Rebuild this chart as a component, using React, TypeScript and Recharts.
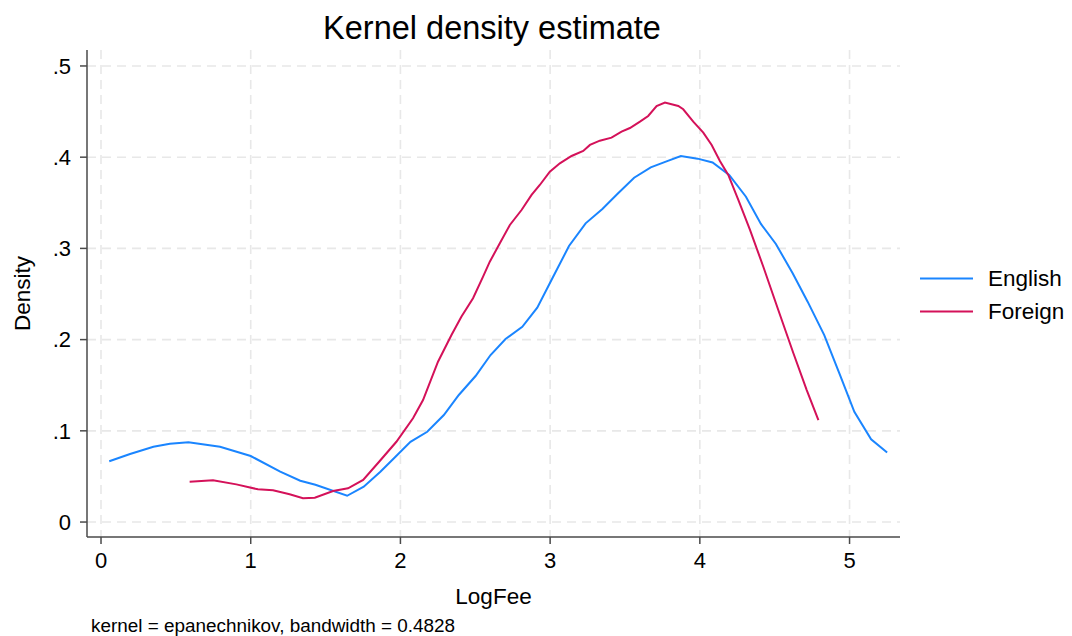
import React from 'react';
import { LineChart, Line, XAxis, YAxis, CartesianGrid, Legend } from 'recharts';

// Kernel density of LogFee, evaluated on each group's own grid
const englishX = [0.055, 0.194, 0.35, 0.46, 0.584, 0.795, 1.0, 1.197, 1.331, 1.432, 1.644, 1.755, 1.866, 1.967, 2.067, 2.179, 2.29, 2.39, 2.502, 2.602, 2.702, 2.814, 2.914, 3.015, 3.126, 3.237, 3.349, 3.449, 3.561, 3.672, 3.773, 3.873, 3.985, 4.085, 4.196, 4.308, 4.408, 4.508, 4.62, 4.72, 4.831, 4.932, 5.032, 5.144, 5.251];
const englishY = [0.0667, 0.0746, 0.0826, 0.0859, 0.0874, 0.0826, 0.0724, 0.0552, 0.0453, 0.0409, 0.0288, 0.0387, 0.0552, 0.0716, 0.088, 0.099, 0.1173, 0.1393, 0.1601, 0.1831, 0.2007, 0.2141, 0.235, 0.2672, 0.3026, 0.3275, 0.3432, 0.3596, 0.3775, 0.3889, 0.3951, 0.4013, 0.3984, 0.3942, 0.3805, 0.3567, 0.3268, 0.3048, 0.2727, 0.2416, 0.205, 0.163, 0.1209, 0.0907, 0.0762];

const foreignX = [0.592, 0.748, 0.904, 1.048, 1.149, 1.26, 1.349, 1.428, 1.55, 1.65, 1.751, 1.862, 1.973, 2.084, 2.151, 2.251, 2.341, 2.407, 2.485, 2.552, 2.597, 2.664, 2.731, 2.809, 2.876, 2.931, 2.998, 3.065, 3.143, 3.221, 3.266, 3.332, 3.41, 3.477, 3.533, 3.6, 3.655, 3.711, 3.767, 3.856, 3.889, 3.956, 4.023, 4.079, 4.134, 4.19, 4.257, 4.335, 4.424, 4.524, 4.625, 4.714, 4.792];
const foreignY = [0.0442, 0.0457, 0.0413, 0.0359, 0.0348, 0.0304, 0.026, 0.0266, 0.034, 0.037, 0.0461, 0.0669, 0.088, 0.1137, 0.1338, 0.1758, 0.205, 0.2251, 0.2453, 0.269, 0.2854, 0.3056, 0.3257, 0.3421, 0.3586, 0.3695, 0.3841, 0.3933, 0.4013, 0.4068, 0.4134, 0.4181, 0.4214, 0.428, 0.432, 0.4389, 0.4452, 0.4561, 0.4598, 0.4561, 0.4525, 0.4389, 0.4269, 0.4134, 0.3958, 0.3805, 0.3531, 0.3202, 0.2799, 0.2325, 0.185, 0.1447, 0.1118];

const xTicks = [0, 1, 2, 3, 4, 5];
const yTicks = [0, 0.1, 0.2, 0.3, 0.4, 0.5];

const seriesNames = ['English', 'Foreign'];
const seriesColors = ['#1a85ff', '#d41159'];

const titleText = 'Kernel density estimate';
const xTitle = 'LogFee';
const yTitle = 'Density';
const noteText = 'kernel = epanechnikov, bandwidth = 0.4828';

const zip = (xs: number[], ys: number[]) => xs.map((x, i) => ({ x, y: ys[i] }));
const englishData = zip(englishX, englishY);
const foreignData = zip(foreignX, foreignY);

const FONT = '"Liberation Sans", Arial, Helvetica, sans-serif';
const AXIS_COLOR = '#4a4a4a';

const fmtY = (v: number) => (v === 0 ? '0' : v.toFixed(1).replace(/^0/, ''));

const LegendBox = () => (
  <div style={{ fontFamily: FONT, fontSize: 22.5, color: '#000' }}>
    {seriesNames.map((name, i) => (
      <div key={name} style={{ height: 33, display: 'flex', alignItems: 'center' }}>
        <svg width={88} height={33} style={{ display: 'block' }}>
          <line x1={20} x2={73} y1={16.5} y2={16.5} stroke={seriesColors[i]} strokeWidth={2} />
        </svg>
        <span style={{ lineHeight: '33px' }}>{name}</span>
      </div>
    ))}
  </div>
);

export default function App() {
  return (
    <div style={{ position: 'absolute', left: 0, top: 0, width: 1072, height: 636, background: '#fff' }}>
      <LineChart
        width={1072}
        height={636}
        margin={{ top: 50, right: 0, bottom: 39, left: 0 }}
        style={{ fontFamily: FONT }}
      >
        <CartesianGrid
          stroke="#e8e8e8"
          strokeWidth={1.6}
          strokeDasharray="9 6"
          verticalValues={xTicks}
          horizontalValues={yTicks}
        />
        <XAxis
          type="number"
          dataKey="x"
          domain={[-0.0936, 5.337]}
          ticks={xTicks}
          allowDataOverflow
          height={60}
          stroke={AXIS_COLOR}
          strokeWidth={1.5}
          tickSize={7}
          tickMargin={8}
          tick={{ fill: '#000', fontSize: 22, fontFamily: FONT }}
          label={(props: any) => {
            const vb = props.viewBox;
            return (
              <text x={vb.x + vb.width / 2} y={vb.y + 67} textAnchor="middle" fontSize={22.5} fontFamily={FONT} fill="#000">
                {xTitle}
              </text>
            );
          }}
        />
        <YAxis
          type="number"
          dataKey="y"
          domain={[-0.0164, 0.5175]}
          ticks={yTicks}
          allowDataOverflow
          width={87}
          stroke={AXIS_COLOR}
          strokeWidth={1.5}
          tickSize={7}
          tickMargin={9}
          tickFormatter={fmtY}
          tick={{ fill: '#000', fontSize: 22, fontFamily: FONT }}
          label={(props: any) => {
            const vb = props.viewBox;
            const cx = vb.x + 30;
            const cy = vb.y + vb.height / 2;
            return (
              <text x={cx} y={cy} transform={`rotate(-90 ${cx} ${cy})`} textAnchor="middle" fontSize={22.5} fontFamily={FONT} fill="#000">
                {yTitle}
              </text>
            );
          }}
        />
        <Legend
          layout="vertical"
          align="right"
          verticalAlign="middle"
          width={172}
          wrapperStyle={{ top: 262 }}
          content={() => <LegendBox />}
        />
        <Line
          data={englishData}
          dataKey="y"
          name={seriesNames[0]}
          type="linear"
          stroke={seriesColors[0]}
          strokeWidth={2}
          dot={false}
          activeDot={false}
          isAnimationActive={false}
        />
        <Line
          data={foreignData}
          dataKey="y"
          name={seriesNames[1]}
          type="linear"
          stroke={seriesColors[1]}
          strokeWidth={2}
          dot={false}
          activeDot={false}
          isAnimationActive={false}
        />
        <text x={492} y={38.5} textAnchor="middle" fontSize={32.5} fontFamily={FONT} fill="#000">
          {titleText}
        </text>
        <text x={91} y={632} fontSize={18.9} fontFamily={FONT} fill="#000">
          {noteText}
        </text>
      </LineChart>
    </div>
  );
}
